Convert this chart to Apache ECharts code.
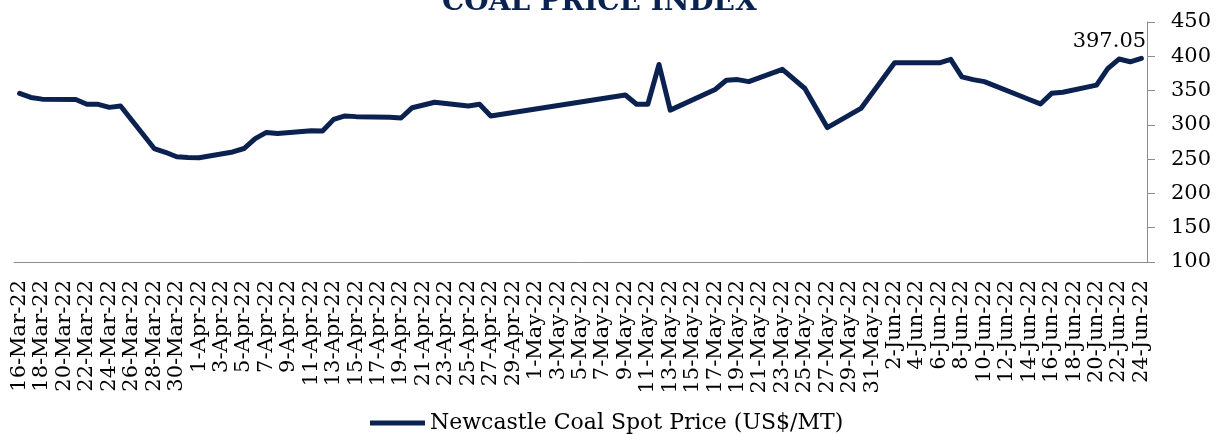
<!DOCTYPE html>
<html>
<head>
<meta charset="utf-8">
<script src="https://cdn.jsdelivr.net/npm/echarts@6/dist/echarts.min.js"></script>
<style>
  html, body { margin: 0; padding: 0; background: #fff; }
  #chart { width: 1218px; height: 434px; }
</style>
</head>
<body>
<div id="chart"></div>
<script>
// daily dates 16-Mar-22 .. 24-Jun-22 (date axis, one slot per day)
var monthNames = ['Jan','Feb','Mar','Apr','May','Jun','Jul','Aug','Sep','Oct','Nov','Dec'];
var startDate = new Date(2022, 2, 16);
var dayCount = 101;

// Newcastle coal spot price, null = no quote that day (weekends / holidays)
var prices = [
  346, 340, 337.5, null, null, 337, 330, 330, 325.5, 327.5,
  null, null, 265.5, 260, 253.5, 252.5, 252, null, null, 260.5,
  265.5, 280, 289, 287.5, null, null, 291.5, 291, 308, 313,
  312, null, null, 311, 310, 325, 329, 333, null, null,
  327.5, 330, 313, null, null, null, null, null, null, null,
  null, null, null, null, 343.5, 330, 330, 388, 321.5, null,
  null, null, 351.5, 365, 366, 363, null, null, 381, null,
  353, null, 296, null, null, 324, null, null, 390.5, 390.5,
  null, null, 390.5, 395.5, 370, 366, 363, null, null, 343.5,
  337, 330.5, 346, 347.5, null, null, 358, 382, 396, 392,
  397.05
];

var seriesName = 'Newcastle Coal Spot Price (US$/MT)';
var titleText = 'COAL PRICE INDEX';
var navy = '#0b2250';
var serif = 'DejaVu Serif';

var dateArray = [];
var d = new Date(startDate.getTime());
for (var i = 0; i < dayCount; i++) {
    dateArray.push(d.getDate() + '-' + monthNames[d.getMonth()] + '-22');
    d.setDate(d.getDate() + 1);
}

// only the last point carries a value label
var lastIdx = prices.length - 1;
var seriesData = prices.map(function (v, i) {
    if (i === lastIdx) {
        return {
            value: v,
            label: {
                show: true,
                position: 'top',
                offset: [-32, -1],
                formatter: function (p) { return p.value.toFixed(2); },
                fontFamily: serif,
                fontSize: 21,
                color: '#000'
            }
        };
    }
    return v;
});

var chart = echarts.init(document.getElementById('chart'));

chart.setOption({
    animation: false,
    title: {
        text: titleText,
        left: 437,
        top: -16,
        textStyle: {
            fontFamily: serif,
            fontWeight: 'bold',
            fontSize: 28,
            color: navy
        }
    },
    legend: {
        data: [seriesName],
        left: 365,
        top: 407,
        icon: 'rect',
        itemWidth: 55,
        itemHeight: 5,
        textStyle: {
            fontFamily: serif,
            fontSize: 22,
            color: '#000'
        }
    },
    grid: {
        left: 14,
        right: 71,
        top: 22,
        bottom: 172
    },
    xAxis: {
        type: 'category',
        boundaryGap: true,
        data: dateArray,
        axisLine: { lineStyle: { color: '#8c8c8c', width: 1 } },
        axisTick: { interval: 1, length: 8, lineStyle: { color: '#8c8c8c' } },
        axisLabel: {
            interval: 1,
            rotate: 90,
            margin: 18,
            fontFamily: serif,
            fontSize: 21,
            color: '#000'
        },
        splitLine: { show: false }
    },
    yAxis: {
        type: 'value',
        position: 'right',
        min: 100,
        max: 450,
        interval: 50,
        axisLine: { show: true, lineStyle: { color: '#8c8c8c', width: 1 } },
        axisTick: { show: true, length: 8, lineStyle: { color: '#8c8c8c' } },
        axisLabel: {
            margin: 24,
            fontFamily: serif,
            fontSize: 21,
            color: '#000'
        },
        splitLine: { show: false }
    },
    series: [
        {
            name: seriesName,
            type: 'line',
            data: seriesData,
            connectNulls: true,
            symbol: 'circle',
            symbolSize: 1,
            showSymbol: true,
            lineStyle: { color: navy, width: 5, join: 'round', cap: 'round' },
            itemStyle: { color: navy }
        }
    ]
});
</script>
</body>
</html>
